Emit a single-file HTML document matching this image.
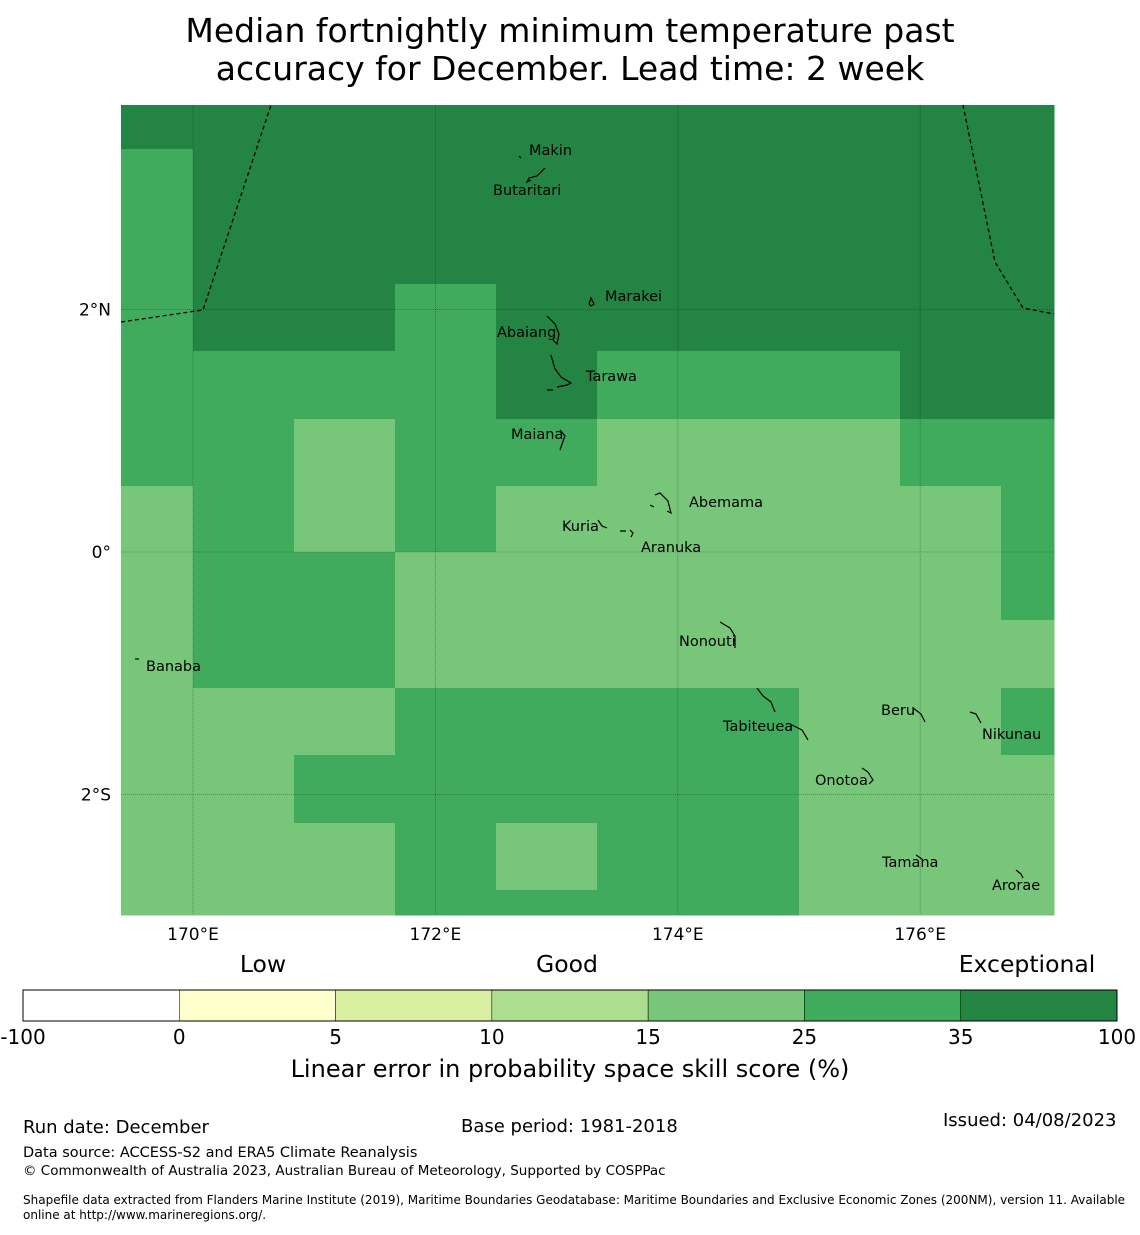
<!DOCTYPE html>
<html><head><meta charset="utf-8"><style>
body{margin:0;background:#fff;font-family:"Liberation Sans","DejaVu Sans",sans-serif;}
svg text{font-family:"DejaVu Sans","Liberation Sans",sans-serif;}
</style></head><body>
<svg width="1140" height="1230" xmlns="http://www.w3.org/2000/svg">
<g font-size="33" text-anchor="middle" fill="#000">
<text x="570" y="42">Median fortnightly minimum temperature past</text>
<text x="570" y="80">accuracy for December. Lead time: 2 week</text>
</g>
<g id="cells"></g>
<g id="grid"></g>
<g fill="none" stroke="#000" stroke-width="1.3" stroke-dasharray="4,3">
<polyline points="121,322 203,310 271,105"/>
<polyline points="963,105 995,262 1023,308 1054,314"/>
</g>
<g fill="none" stroke="#000" stroke-width="1.2">
<path d="M519,156 l2,2 M545,168 l-8,8 -8,2 -2,4 4,-2"/><path d="M589,304 l2,-6 3,6 -3,2z"/>
<path d="M547,316 l8,8 4,10 -2,10 -4,-4"/><path d="M551,355 l4,14 6,8 10,6 -4,2 -10,2 M547,390 h6"/>
<path d="M560,430 l5,6 -3,8 -2,6"/><path d="M655,495 l5,-2 8,8 3,12 -4,-2 M650,505 l4,2"/>
<path d="M598,520 l4,6 5,2 M620,531 h6 M630,530 l3,3 -2,4"/><path d="M720,622 l10,6 5,8 0,12"/>
<path d="M757,688 l6,8 8,6 4,10 M790,724 l12,6 6,10"/><path d="M913,708 l8,6 4,8"/><path d="M970,712 l6,2 5,9"/>
<path d="M862,768 l6,4 5,8 -4,4"/><path d="M916,855 l6,4"/><path d="M1016,870 l5,4 2,4"/><path d="M135,659 h4"/>
</g>
<g font-size="14.5" fill="#000">
<text x="529" y="155">Makin</text><text x="493" y="195">Butaritari</text><text x="605" y="301">Marakei</text>
<text x="497" y="337">Abaiang</text><text x="586" y="381">Tarawa</text><text x="511" y="439">Maiana</text>
<text x="689" y="507">Abemama</text><text x="562" y="531">Kuria</text><text x="641" y="552">Aranuka</text>
<text x="679" y="646">Nonouti</text><text x="146" y="671">Banaba</text><text x="723" y="731">Tabiteuea</text>
<text x="881" y="715">Beru</text><text x="982" y="739">Nikunau</text><text x="815" y="785">Onotoa</text>
<text x="882" y="867">Tamana</text><text x="992" y="890">Arorae</text>
</g>
<g id="ticks" font-size="17" fill="#000"></g>
<g>
<g id="cbar"></g>
<rect x="23" y="990" width="1094" height="31" fill="none" stroke="#000" stroke-width="1"/>
<g font-size="23.5" text-anchor="middle"><text x="263" y="972">Low</text><text x="567" y="972">Good</text><text x="1027" y="972">Exceptional</text></g>
<g id="cbticks" font-size="20" text-anchor="middle"></g>
<text x="570" y="1077" font-size="24" text-anchor="middle">Linear error in probability space skill score (%)</text>
</g>
<g fill="#000">
<text x="23" y="1133" font-size="18">Run date: December</text>
<text x="461" y="1132" font-size="18">Base period: 1981-2018</text>
<text x="943" y="1126" font-size="18">Issued: 04/08/2023</text>
<text x="23" y="1157" font-size="14.5">Data source: ACCESS-S2 and ERA5 Climate Reanalysis</text>
<text x="23" y="1175" font-size="13.5">© Commonwealth of Australia 2023, Australian Bureau of Meteorology, Supported by COSPPac</text>
<text x="23" y="1204" font-size="12">Shapefile data extracted from Flanders Marine Institute (2019), Maritime Boundaries Geodatabase: Maritime Boundaries and Exclusive Economic Zones (200NM), version 11. Available</text>
<text x="23" y="1219" font-size="12">online at http://www.marineregions.org/.</text>
</g>
</svg>
<script>
const colBounds=[121,193,294,395,496,597,698,799,900,1001,1054];
const rowBounds=[105,149,217,284,351,419,486,552,620,688,755,823,890,915];
const skillRows=["DDDDDDDDDD","MDDDDDDDDD","MDDDDDDDDD","MDDMDDDDDD","MMMMDMMMDD","MMLMMLLLMM","LMLMLLLLLM","LMMLLLLLLM","LMMLLLLLLL","LLLMMMMLLM","LLMMMMMLLL","LLLMLMMLLL","LLLMMMMLLL"];
const skillColors={D:"#238443",M:"#41ab5d",L:"#78c679"};
const lonTicks=[170,172,174,176];
const latTicks=[2,0,-2];
const cbEdges=[-100,0,5,10,15,25,35,100];
const cbColors=["#ffffff","#ffffcc","#d9f0a3","#addd8e","#78c679","#41ab5d","#238443"];
const NS="http://www.w3.org/2000/svg";
const lonX=l=>193+(l-170)*121.2;
const latY=l=>552-l*121.2;
const cells=document.getElementById('cells');
skillRows.forEach((row,r)=>{[...row].forEach((c,k)=>{
 const e=document.createElementNS(NS,'rect');
 e.setAttribute('x',colBounds[k]);e.setAttribute('y',rowBounds[r]);
 e.setAttribute('width',colBounds[k+1]-colBounds[k]+0.5);e.setAttribute('height',rowBounds[r+1]-rowBounds[r]+0.5);
 e.setAttribute('fill',skillColors[c]);
 
 
 cells.appendChild(e);});});
const grid=document.getElementById('grid'),ticks=document.getElementById('ticks');
lonTicks.forEach(l=>{const x=lonX(l);
 const ln=document.createElementNS(NS,'line');ln.setAttribute('x1',x);ln.setAttribute('x2',x);ln.setAttribute('y1',105);ln.setAttribute('y2',915);
 ln.setAttribute('stroke','#000');ln.setAttribute('stroke-opacity','0.35');ln.setAttribute('stroke-width','0.8');ln.setAttribute('stroke-dasharray','1,1');
 
 
 grid.appendChild(ln);
 const t=document.createElementNS(NS,'text');t.setAttribute('x',x);t.setAttribute('y',940);t.setAttribute('text-anchor','middle');t.textContent=l+'°E';
 
 
 ticks.appendChild(t);});
latTicks.forEach(l=>{const y=latY(l);
 const ln=document.createElementNS(NS,'line');ln.setAttribute('x1',121);ln.setAttribute('x2',1054);ln.setAttribute('y1',y);ln.setAttribute('y2',y);
 ln.setAttribute('stroke','#000');ln.setAttribute('stroke-opacity','0.35');ln.setAttribute('stroke-width','0.8');ln.setAttribute('stroke-dasharray','1,1');
 
 
 grid.appendChild(ln);
 const t=document.createElementNS(NS,'text');t.setAttribute('x',111);t.setAttribute('y',y+6);t.setAttribute('text-anchor','end');
 t.textContent=l===0?'0°':Math.abs(l)+'°'+(l>0?'N':'S');
 
 
 ticks.appendChild(t);});
const cb=document.getElementById('cbar'),cbt=document.getElementById('cbticks');
const segW=1094/cbColors.length;
cbColors.forEach((c,i)=>{const r=document.createElementNS(NS,'rect');
 r.setAttribute('x',23+i*segW);r.setAttribute('y',990);r.setAttribute('width',segW);r.setAttribute('height',31);
 r.setAttribute('fill',c);r.setAttribute('stroke','#000');r.setAttribute('stroke-width','0.5');
 
 
 cb.appendChild(r);});
cbEdges.forEach((v,i)=>{const t=document.createElementNS(NS,'text');
 t.setAttribute('x',23+i*segW);t.setAttribute('y',1044);t.textContent=v;
 
 
 cbt.appendChild(t);});
</script>
</body></html>
